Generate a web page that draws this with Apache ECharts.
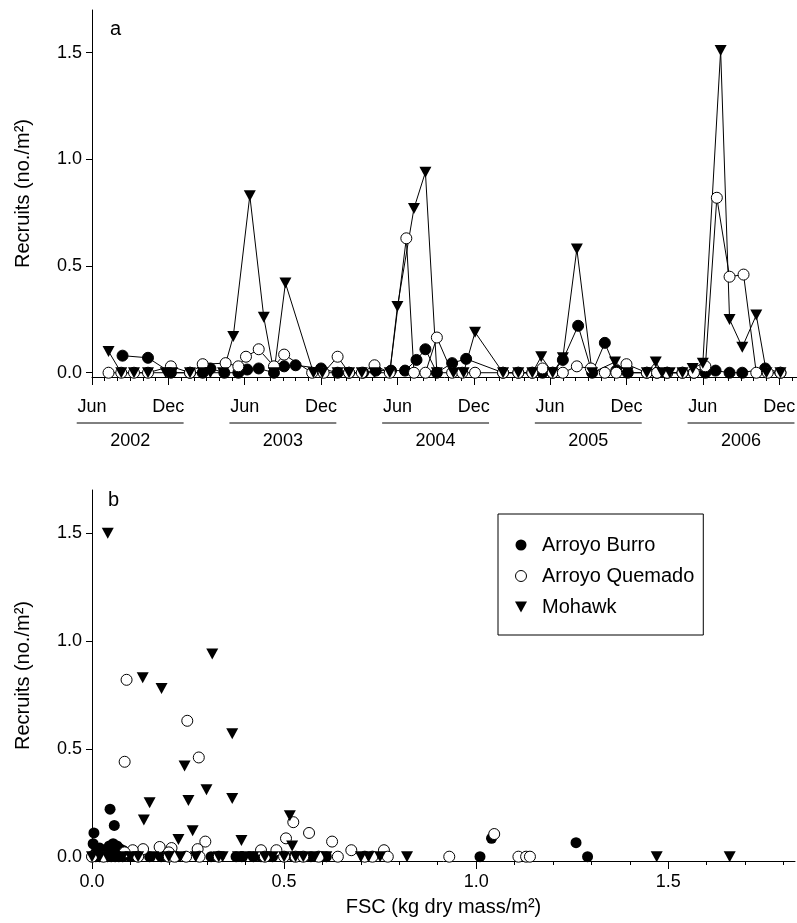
<!doctype html>
<html lang="en">
<head>
<meta charset="UTF-8" />
<title>Recruits vs time and FSC</title>
<style>
  html, body { margin: 0; background: #fff; }
  #chart { width: 797px; height: 923px; }
</style>
</head>
<body>
<div id="chart"></div>
<script src="https://cdn.jsdelivr.net/npm/echarts@6/dist/echarts.min.js"></script>
<script>
// ---- panel a: months counted from June 2002 (0 = Jun 2002, 6 = Dec 2002, ...)
const burroMonths = [2.4, 4.4, 6.2, 7.7, 8.7, 9.3, 10.4, 11.5, 12.2, 13.1, 14.3, 15.1, 16.0, 18.0, 19.3, 20.2, 21.3, 22.3, 23.5, 24.6, 25.5, 26.2, 27.1, 28.3, 29.4, 32.3, 33.5, 34.6, 35.4, 36.2, 37.0, 38.2, 39.3, 40.3, 41.2, 42.1, 43.6, 44.4, 45.2, 46.4, 47.3, 48.2, 49.0, 50.1, 51.1, 52.9, 54.1];
const burroRecruits = [0.08, 0.07, 0, 0, 0, 0.02, 0, 0, 0.015, 0.02, 0, 0.03, 0.035, 0.02, 0, 0, 0, 0.01, 0.01, 0.01, 0.06, 0.11, 0, 0.045, 0.065, 0, 0, 0, 0, 0, 0.06, 0.22, 0, 0.14, 0.01, 0, 0, 0, 0, 0, 0, 0, 0.01, 0, 0, 0.02, 0];

const quemadoMonths = [1.3, 2.3, 3.3, 4.4, 6.2, 7.7, 8.7, 10.5, 11.5, 12.1, 13.1, 14.3, 15.1, 17.3, 18.2, 19.3, 20.2, 21.2, 22.2, 23.4, 24.7, 25.3, 26.2, 27.1, 28.3, 29.1, 30.1, 32.3, 33.5, 34.6, 35.4, 36.2, 37.0, 38.1, 39.2, 40.3, 41.2, 42.0, 43.6, 44.4, 45.2, 46.4, 47.3, 48.2, 49.1, 50.1, 51.2, 52.2, 53.1, 54.1];
const quemadoRecruits = [0, 0, 0, 0, 0.03, 0, 0.04, 0.045, 0.03, 0.075, 0.11, 0.03, 0.085, 0, 0, 0.075, 0, 0, 0.035, 0, 0.63, 0, 0, 0.165, 0, 0, 0, 0, 0, 0, 0.02, 0, 0, 0.03, 0.02, 0, 0, 0.04, 0, 0, 0, 0, 0, 0.03, 0.82, 0.45, 0.46, 0, 0, 0];

const mohawkMonths = [1.3, 2.3, 3.3, 4.4, 5.8, 6.3, 7.7, 8.7, 9.3, 10.3, 11.1, 12.4, 13.5, 14.3, 15.2, 17.4, 18.1, 19.3, 20.2, 21.2, 22.2, 23.4, 24.0, 25.3, 26.2, 27.1, 28.4, 29.2, 30.1, 32.3, 33.5, 34.6, 35.3, 36.2, 37.0, 38.1, 39.3, 41.1, 42.1, 43.6, 44.3, 44.8, 45.4, 46.4, 47.2, 48.0, 49.4, 50.1, 51.1, 52.2, 53.0, 54.1];
const mohawkRecruits = [0.10, 0, 0, 0, 0, 0, 0, 0, 0, 0, 0.17, 0.83, 0.26, 0, 0.42, 0, 0, 0, 0, 0, 0, 0, 0.31, 0.77, 0.94, 0, 0, 0, 0.19, 0, 0, 0, 0.075, 0, 0.07, 0.58, 0, 0.05, 0, 0, 0.05, 0, 0, 0, 0.02, 0.045, 1.51, 0.25, 0.12, 0.27, 0, 0];

const monthTickValues = [0, 6, 12, 18, 24, 30, 36, 42, 48, 54];
const years = ['2002', '2003', '2004', '2005', '2006'];

// ---- panel b: recruits against FSC (kg dry mass/m2)
const burroFsc = [0.005, 0.047, 0.058, 0.003, 1.04, 1.26, 0.02, 0.03, 0.045, 0.055, 0.065, 0.07, 0.08, 0.035, 0.01, 0.09, 0.1, 0.06,
  0, 0.01, 0.02, 0.03, 0.04, 0.05, 0.06, 0.07, 0.08, 0.1, 0.12, 0.15, 0.18, 0.22, 0.31, 0.33, 0.375, 0.39, 0.42, 0.44, 0.47, 0.525, 0.57, 0.6, 0.61, 0.71, 1.01, 1.29];
const burroB = [0.11, 0.22, 0.145, 0.06, 0.085, 0.065, 0.04, 0.03, 0.05, 0.06, 0.05, 0.04, 0.03, 0.02, 0.02, 0.02, 0.01, 0.03,
  0, 0, 0, 0, 0, 0, 0, 0, 0, 0, 0, 0, 0, 0, 0, 0, 0, 0, 0, 0, 0, 0, 0, 0, 0, 0, 0, 0];

const quemadoFsc = [0.09, 0.085, 0.248, 0.278, 0.524, 0.505, 0.565, 0.625, 0.295, 0.44, 0.48, 0.675, 0.176, 0.207, 0.133, 0.106, 0.275, 0.76, 1.047, 0.2, 0.085,
  0, 0.03, 0.12, 0.2, 0.215, 0.245, 0.28, 0.33, 0.45, 0.5, 0.53, 0.55, 0.59, 0.64, 0.71, 0.73, 0.77, 0.93, 1.11, 1.13, 1.14];
const quemadoB = [0.82, 0.44, 0.63, 0.46, 0.16, 0.085, 0.11, 0.07, 0.07, 0.03, 0.03, 0.03, 0.045, 0.04, 0.035, 0.03, 0.035, 0.03, 0.105, 0.02, 0.02,
  0, 0, 0, 0, 0, 0, 0, 0, 0, 0, 0, 0, 0, 0, 0, 0, 0, 0, 0, 0, 0];

const mohawkFsc = [0.041, 0.132, 0.181, 0.313, 0.365, 0.241, 0.298, 0.251, 0.15, 0.365, 0.135, 0.262, 0.225, 0.389, 0.515, 0.521,
  0, 0.02, 0.04, 0.06, 0.08, 0.1, 0.12, 0.16, 0.2, 0.23, 0.27, 0.33, 0.34, 0.38, 0.4, 0.42, 0.45, 0.47, 0.5, 0.53, 0.55, 0.58, 0.61, 0.7, 0.72, 0.75, 0.82, 1.47, 1.66];
const mohawkB = [1.50, 0.83, 0.78, 0.94, 0.57, 0.42, 0.31, 0.26, 0.25, 0.27, 0.17, 0.12, 0.08, 0.075, 0.19, 0.05,
  0, 0, 0, 0, 0, 0, 0, 0, 0, 0, 0, 0, 0, 0, 0, 0, 0, 0, 0, 0, 0, 0, 0, 0, 0, 0, 0, 0, 0];

const recruitTicks = [0, 0.5, 1, 1.5];
const fscTicks = [0, 0.5, 1, 1.5];
const fscMinorTicks = [0.1, 0.2, 0.3, 0.4, 0.6, 0.7, 0.8, 0.9, 1.1, 1.2, 1.3, 1.4, 1.6, 1.7, 1.8];
const monthMinorTicks = [];
for (let m = 1; m <= 55; m++) if (m % 6 !== 0) monthMinorTicks.push(m);

const zip = (xs, ys) => xs.map((x, i) => [x, ys[i]]);

const font = 'Liberation Sans, Arial, Helvetica, sans-serif';
const black = '#000';
const downTriangle = 'path://M0,0 L12,0 L6,11 Z';

const chart = echarts.init(document.getElementById('chart'));

const yAxisBase = (gridIndex) => ({
  type: 'value',
  gridIndex: gridIndex,
  min: -0.02,
  max: 1.7,
  name: 'Recruits (no./m²)',
  nameLocation: 'middle',
  nameGap: 59,
  nameTextStyle: { fontSize: 20, color: black, fontFamily: font },
  axisLine: { show: true, onZero: false, lineStyle: { color: black, width: 1 } },
  axisTick: { show: true, length: 6, customValues: recruitTicks, lineStyle: { color: black } },
  axisLabel: {
    customValues: recruitTicks, margin: 10, fontSize: 18, color: black, fontFamily: font,
    formatter: (v) => v.toFixed(1)
  },
  splitLine: { show: false }
});

const option = {
  animation: false,
  backgroundColor: '#fff',
  title: [
    { text: 'a', left: 105, top: 14, textStyle: { fontSize: 20, fontWeight: 'normal', color: black, fontFamily: font } },
    { text: 'b', left: 103, top: 485, textStyle: { fontSize: 20, fontWeight: 'normal', color: black, fontFamily: font } }
  ],
  grid: [
    { left: 92, top: 10, right: 0, height: 367, containLabel: false, outerBoundsMode: 'none' },
    { left: 92, top: 490, right: 2, height: 371, containLabel: false, outerBoundsMode: 'none' }
  ],
  legend: {
    orient: 'vertical',
    left: 498,
    top: 514,
    padding: [21, 9, 18, 17],
    itemGap: 11,
    itemWidth: 20,
    itemHeight: 11,
    borderColor: black,
    borderWidth: 1,
    selectedMode: false,
    textStyle: { fontSize: 20, color: black, fontFamily: font, padding: [0, 0, 0, 6] },
    data: [
      { name: 'Arroyo Burro', icon: 'circle', itemStyle: { color: black, borderWidth: 0 } },
      { name: 'Arroyo Quemado', icon: 'circle', itemStyle: { color: '#fff', borderColor: black, borderWidth: 1 } },
      { name: 'Mohawk', icon: downTriangle, itemStyle: { color: black, borderWidth: 0 } }
    ]
  },
  xAxis: [
    {
      type: 'value', gridIndex: 0, min: 0, max: 55.4, position: 'bottom',
      axisLine: { show: true, onZero: false, lineStyle: { color: black, width: 1 } },
      axisTick: { show: true, length: 8, customValues: monthTickValues, lineStyle: { color: black } },
      axisLabel: {
        customValues: monthTickValues, margin: 21, fontSize: 18, color: black, fontFamily: font,
        formatter: (v) => (v % 12 === 0 ? 'Jun' : 'Dec')
      },
      splitLine: { show: false }
    },
    {
      type: 'value', gridIndex: 0, min: 0, max: 55.4, position: 'bottom',
      axisLine: { show: false, onZero: false },
      axisTick: { show: true, length: 4, customValues: monthMinorTicks, lineStyle: { color: black } },
      axisLabel: { show: false },
      splitLine: { show: false }
    },
    {
      type: 'value', gridIndex: 1, min: 0, max: 1.83, position: 'bottom',
      name: 'FSC (kg dry mass/m²)',
      nameLocation: 'middle',
      nameGap: 36,
      nameTextStyle: { fontSize: 20, color: black, fontFamily: font },
      axisLine: { show: true, onZero: false, lineStyle: { color: black, width: 1 } },
      axisTick: { show: true, length: 8, customValues: fscTicks, lineStyle: { color: black } },
      axisLabel: {
        customValues: fscTicks, margin: 12, fontSize: 18, color: black, fontFamily: font,
        formatter: (v) => v.toFixed(1)
      },
      splitLine: { show: false }
    },
    {
      type: 'value', gridIndex: 1, min: 0, max: 1.83, position: 'bottom',
      axisLine: { show: false, onZero: false },
      axisTick: { show: true, length: 4, customValues: fscMinorTicks, lineStyle: { color: black } },
      axisLabel: { show: false },
      splitLine: { show: false }
    }
  ],
  yAxis: [yAxisBase(0), yAxisBase(1)],
  series: [
    {
      name: 'Arroyo Burro (time)', type: 'line', xAxisIndex: 0, yAxisIndex: 0,
      data: zip(burroMonths, burroRecruits),
      symbol: 'circle', symbolSize: 11, showAllSymbol: true,
      lineStyle: { color: black, width: 1 },
      itemStyle: { color: black, borderColor: black, borderWidth: 1 }
    },
    {
      name: 'Arroyo Quemado (time)', type: 'line', xAxisIndex: 0, yAxisIndex: 0,
      data: zip(quemadoMonths, quemadoRecruits),
      symbol: 'circle', symbolSize: 11, showAllSymbol: true,
      lineStyle: { color: black, width: 1 },
      itemStyle: { color: '#fff', borderColor: black, borderWidth: 1 }
    },
    {
      name: 'Mohawk (time)', type: 'line', xAxisIndex: 0, yAxisIndex: 0,
      data: zip(mohawkMonths, mohawkRecruits),
      symbol: downTriangle, symbolSize: [12, 11], showAllSymbol: true,
      lineStyle: { color: black, width: 1 },
      itemStyle: { color: black, borderWidth: 0 }
    },
    {
      name: 'Arroyo Burro', type: 'scatter', xAxisIndex: 2, yAxisIndex: 1,
      data: zip(burroFsc, burroB),
      symbol: 'circle', symbolSize: 11,
      itemStyle: { color: black, borderWidth: 0, opacity: 1 }
    },
    {
      name: 'Arroyo Quemado', type: 'scatter', xAxisIndex: 2, yAxisIndex: 1,
      data: zip(quemadoFsc, quemadoB),
      symbol: 'circle', symbolSize: 11,
      itemStyle: { color: '#fff', borderColor: black, borderWidth: 1, opacity: 1 }
    },
    {
      name: 'Mohawk', type: 'scatter', xAxisIndex: 2, yAxisIndex: 1,
      data: zip(mohawkFsc, mohawkB),
      symbol: downTriangle, symbolSize: [12, 11],
      itemStyle: { color: black, borderWidth: 0, opacity: 1 }
    }
  ]
};

chart.setOption(option);

// year labels with underlines below the Jun..Dec ticks of each year
const yearGraphics = [];
years.forEach((yr, i) => {
  const mid = 12 * i + 3;
  const cx = chart.convertToPixel({ xAxisIndex: 0 }, mid);
  const x0 = chart.convertToPixel({ xAxisIndex: 0 }, mid - 4.2);
  const x1 = chart.convertToPixel({ xAxisIndex: 0 }, mid + 4.2);
  yearGraphics.push({
    type: 'line', shape: { x1: x0, y1: 423, x2: x1, y2: 423 },
    style: { stroke: black, lineWidth: 1 }, silent: true
  });
  yearGraphics.push({
    type: 'text', x: cx, y: 441,
    style: { text: yr, fontSize: 18, fontFamily: font, fill: black, align: 'center', verticalAlign: 'middle' },
    silent: true
  });
});
chart.setOption({ graphic: yearGraphics });
</script>
</body>
</html>
